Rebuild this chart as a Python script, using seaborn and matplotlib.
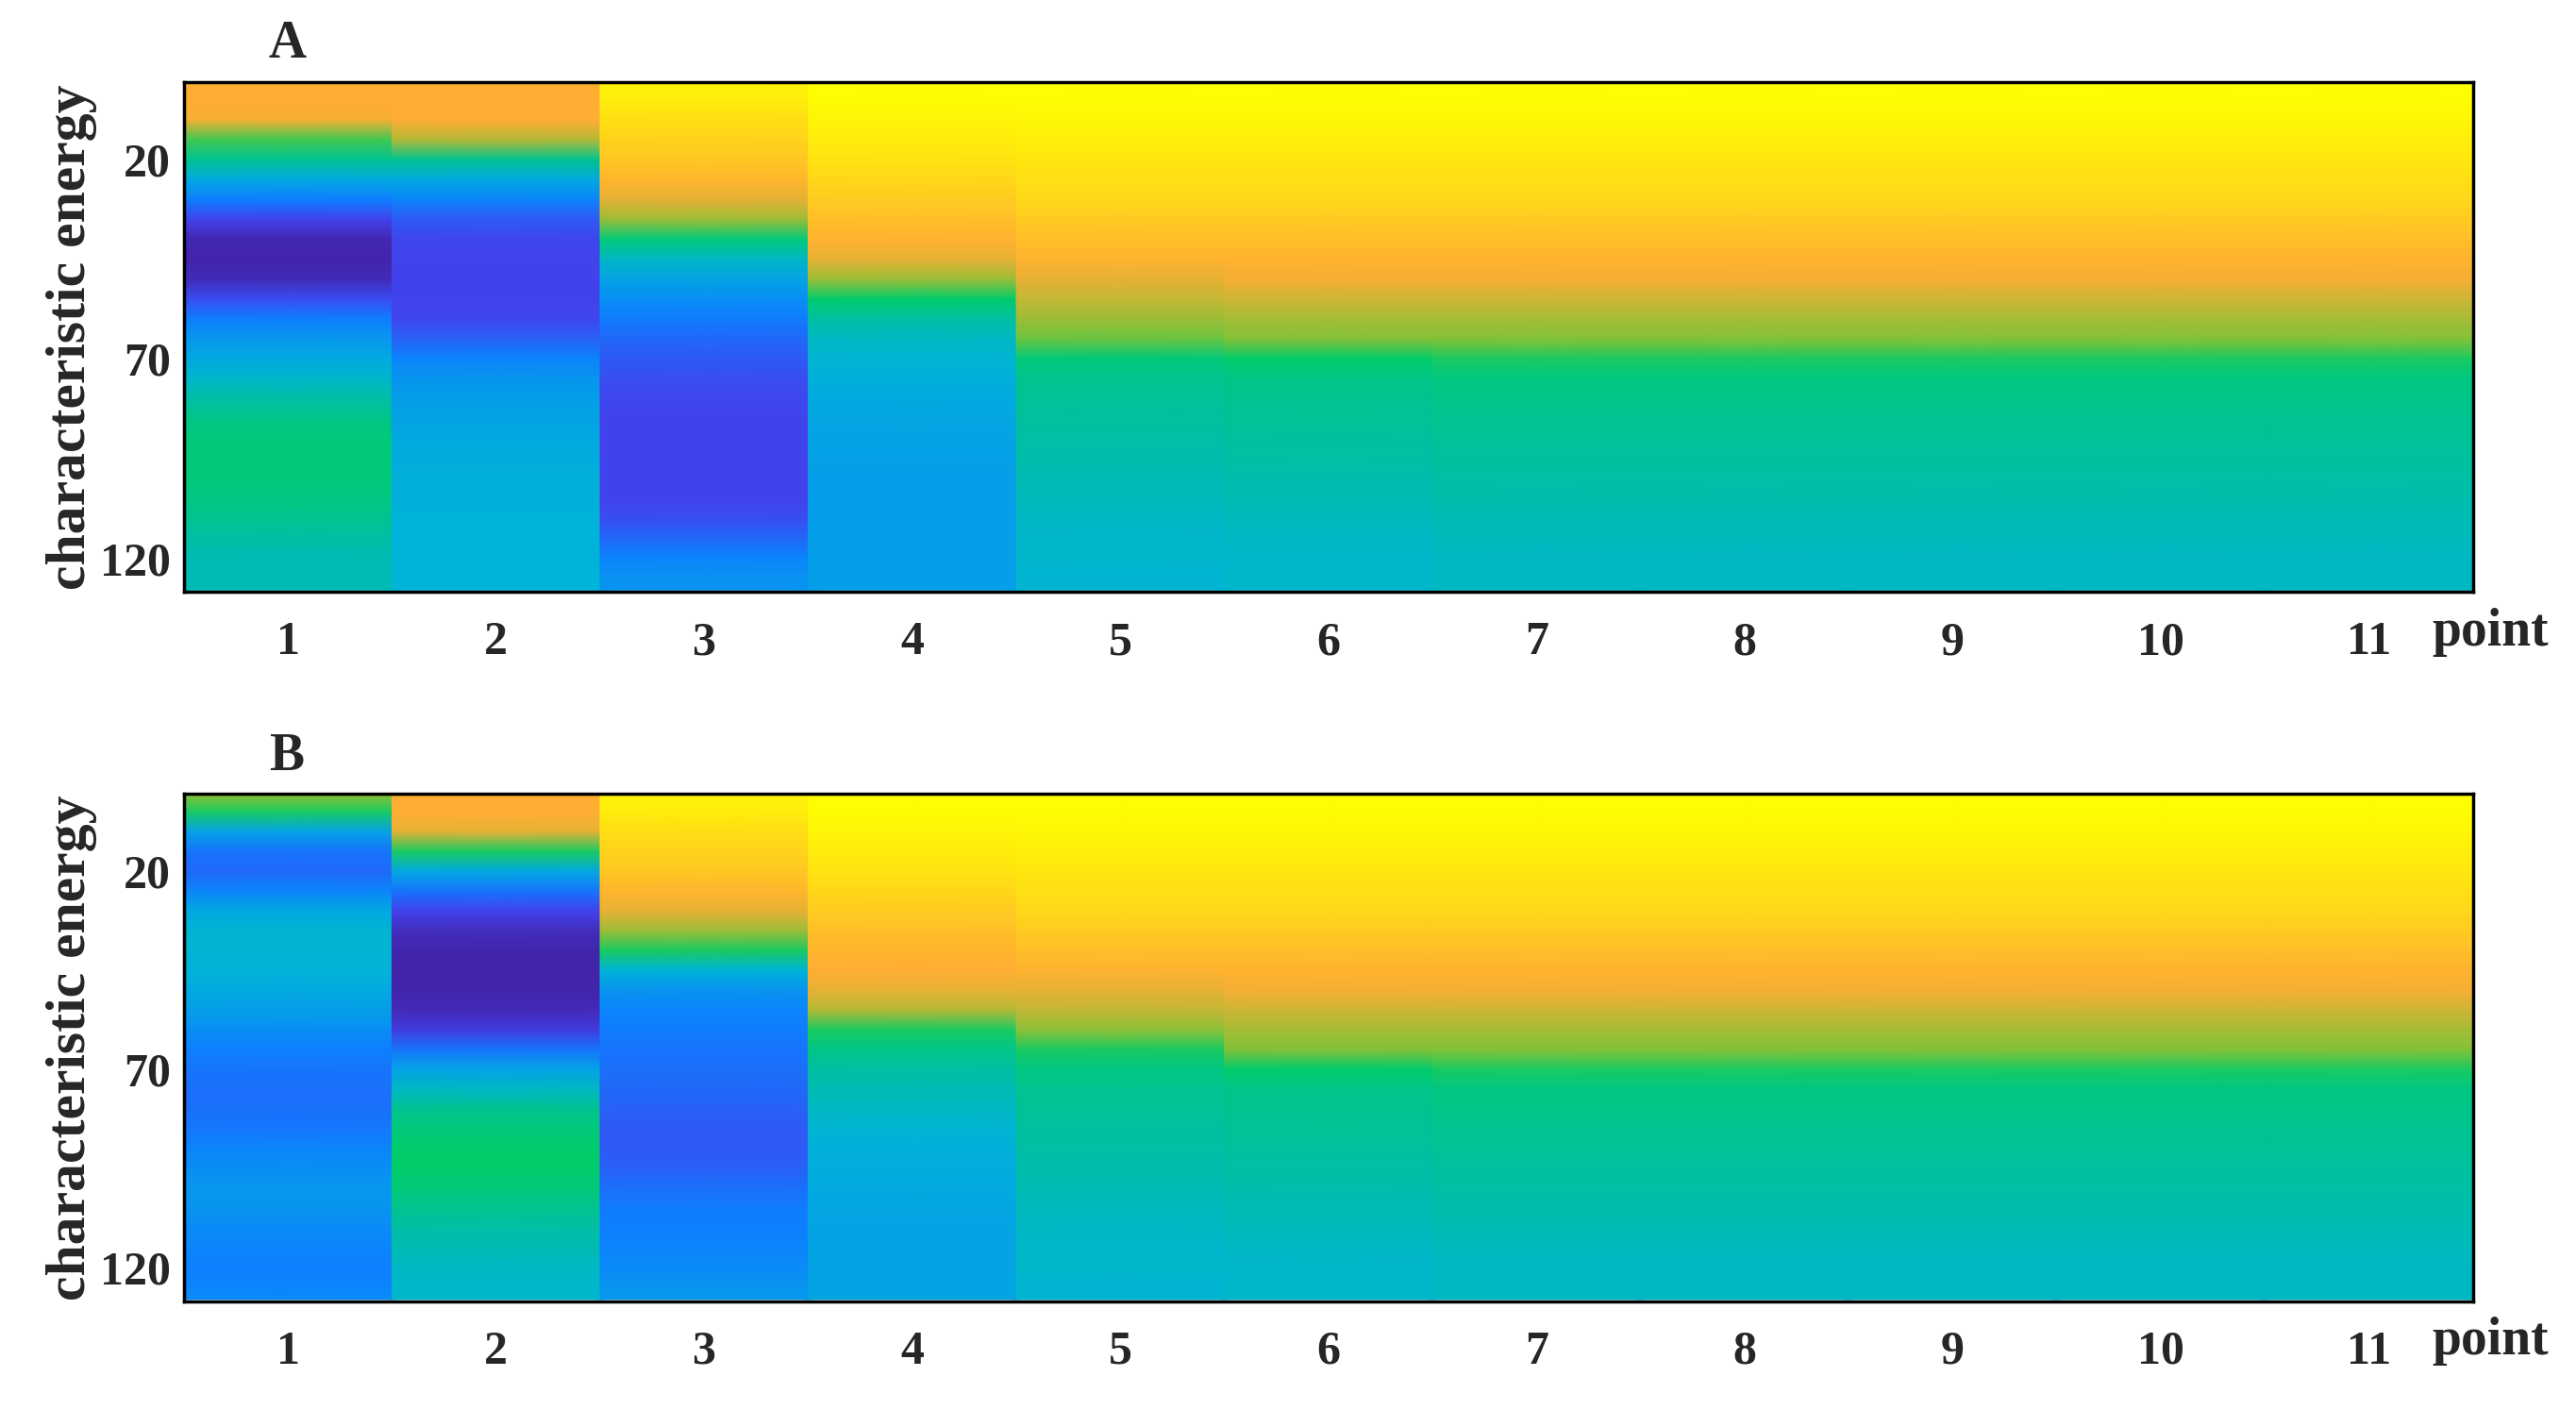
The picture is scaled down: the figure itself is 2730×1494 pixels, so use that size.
import numpy as np
import matplotlib
matplotlib.use("Agg")
import matplotlib.pyplot as plt
import seaborn as sns
from matplotlib.colors import LinearSegmentedColormap

sns.set_theme(style="white")
plt.rcParams['font.family'] = ['Liberation Serif', 'DejaVu Serif']

points = list(range(1, 12))
energy = [1, 5, 10, 15, 20, 25, 30, 35, 40, 45, 50, 55, 60, 65, 70, 75, 80, 85, 90, 95, 100, 105, 110, 115, 120, 125, 128]

# panel A profiles (normalized colour value per energy level)
A1 = [.80, .80, .79, .65, .55, .42, .28, .12, .03, .02, .04, .15, .28, .36, .42, .47, .52, .56, .58, .58, .58, .57, .55, .52, .50, .50, .50]
A2 = [.80, .80, .80, .74, .55, .42, .30, .18, .13, .12, .12, .12, .13, .20, .30, .35, .38, .40, .42, .43, .44, .44, .45, .45, .45, .45, .45]
A3 = [.97, .95, .92, .89, .86, .82, .78, .72, .58, .48, .40, .33, .27, .22, .18, .15, .13, .12, .12, .12, .12, .12, .15, .22, .30, .34, .35]
A4 = [1.0, .99, .97, .95, .93, .90, .87, .84, .81, .78, .72, .60, .52, .48, .46, .44, .42, .41, .40, .39, .38, .38, .38, .38, .38, .38, .38]
A5 = [1.0, .99, .98, .96, .94, .92, .90, .87, .84, .81, .78, .75, .72, .68, .58, .55, .54, .53, .52, .51, .50, .49, .48, .47, .47, .46, .46]
A6 = [1.0, .99, .98, .96, .94, .92, .90, .87, .84, .81, .79, .76, .73, .70, .60, .56, .55, .54, .53, .52, .51, .50, .49, .48, .47, .47, .47]
A7 = [1.0, .99, .98, .96, .94, .92, .90, .87, .84, .81, .79, .76, .73, .70, .62, .57, .56, .55, .54, .53, .52, .51, .50, .49, .48, .48, .48]
A8 = list(A7)
A9 = list(A7)
A10 = list(A7)
A11 = list(A7)

# panel B profiles
B1 = [.70, .62, .40, .25, .22, .30, .42, .46, .46, .45, .42, .38, .33, .28, .25, .24, .24, .26, .30, .33, .36, .35, .32, .30, .28, .30, .32]
B2 = [.80, .80, .78, .62, .42, .25, .12, .05, .02, .02, .02, .04, .10, .25, .40, .48, .55, .58, .60, .60, .58, .55, .52, .50, .48, .47, .47]
B3 = [.97, .95, .92, .89, .86, .82, .78, .72, .62, .45, .35, .30, .27, .25, .24, .22, .20, .18, .18, .20, .24, .27, .28, .30, .32, .35, .36]
B4 = [1.0, .99, .97, .95, .93, .90, .87, .84, .82, .80, .78, .74, .62, .56, .52, .50, .48, .46, .44, .43, .42, .41, .40, .40, .40, .40, .40]
B5 = [1.0, .99, .98, .96, .94, .92, .90, .87, .84, .81, .78, .75, .71, .62, .57, .55, .54, .53, .52, .51, .50, .49, .48, .47, .47, .46, .46]
B6 = [1.0, .99, .98, .96, .94, .92, .90, .87, .84, .81, .79, .76, .73, .70, .60, .56, .55, .54, .53, .52, .51, .50, .49, .48, .47, .47, .47]
B7 = [1.0, .99, .98, .96, .94, .92, .90, .87, .84, .81, .79, .76, .73, .70, .62, .57, .56, .55, .54, .53, .52, .51, .50, .49, .48, .48, .48]
B8 = list(B7)
B9 = list(B7)
B10 = list(B7)
B11 = list(B7)

panelA = [A1, A2, A3, A4, A5, A6, A7, A8, A9, A10, A11]
panelB = [B1, B2, B3, B4, B5, B6, B7, B8, B9, B10, B11]

cmap = LinearSegmentedColormap.from_list("parulaish", [
    (0.00, (0.26, 0.12, 0.62)),
    (0.12, (0.26, 0.26, 0.93)),
    (0.28, (0.05, 0.50, 1.00)),
    (0.45, (0.00, 0.70, 0.85)),
    (0.60, (0.00, 0.80, 0.42)),
    (0.70, (0.50, 0.76, 0.22)),
    (0.80, (1.00, 0.68, 0.20)),
    (1.00, (1.00, 1.00, 0.00)),
])

fig = plt.figure(figsize=(27.3, 14.94), dpi=100)
boxes = [[0.0714, 0.580, 0.8886, 0.362], [0.0714, 0.077, 0.8886, 0.360]]
fs = 36
for box, data, lab in zip(boxes, [panelA, panelB], ["A", "B"]):
    ax = fig.add_axes(box)
    E = np.array(energy, dtype=float)
    for p, col in zip(points, data):
        X = np.array([[p - 0.5, p + 0.5]] * len(E))
        Y = np.column_stack([E, E])
        C = np.column_stack([col, col])
        ax.pcolormesh(X, Y, C, shading='gouraud', cmap=cmap, vmin=0, vmax=1)
    ax.set_xlim(0.5, 11.5)
    ax.set_ylim(128.5, 0.5)
    ax.set_xticks(points)
    ax.set_xticklabels([str(p) for p in points], fontsize=fs, fontweight='bold')
    ax.set_yticks([20, 70, 120])
    ax.set_yticklabels(["20", "70", "120"], fontsize=fs, fontweight='bold')
    ax.tick_params(axis='x', pad=22)
    ax.tick_params(direction='in', length=12, width=2, top=True, right=True, color='black')
    ax.tick_params(axis='y', pad=10)
    for s in ax.spines.values():
        s.set_visible(True)
        s.set_color('black')
        s.set_linewidth(2.5)
    ax.set_ylabel("characteristic energy", fontsize=43, fontweight='bold', labelpad=2)
    ax.text(0.037, 1.025, lab, transform=ax.transAxes, fontsize=40, fontweight='bold', va='bottom')
    ax.text(0.982, -0.03, "point", transform=ax.transAxes, fontsize=40, fontweight='bold', va='top', ha='left')
    ax.grid(False)

fig.savefig("out.png", dpi=100, facecolor='white')
